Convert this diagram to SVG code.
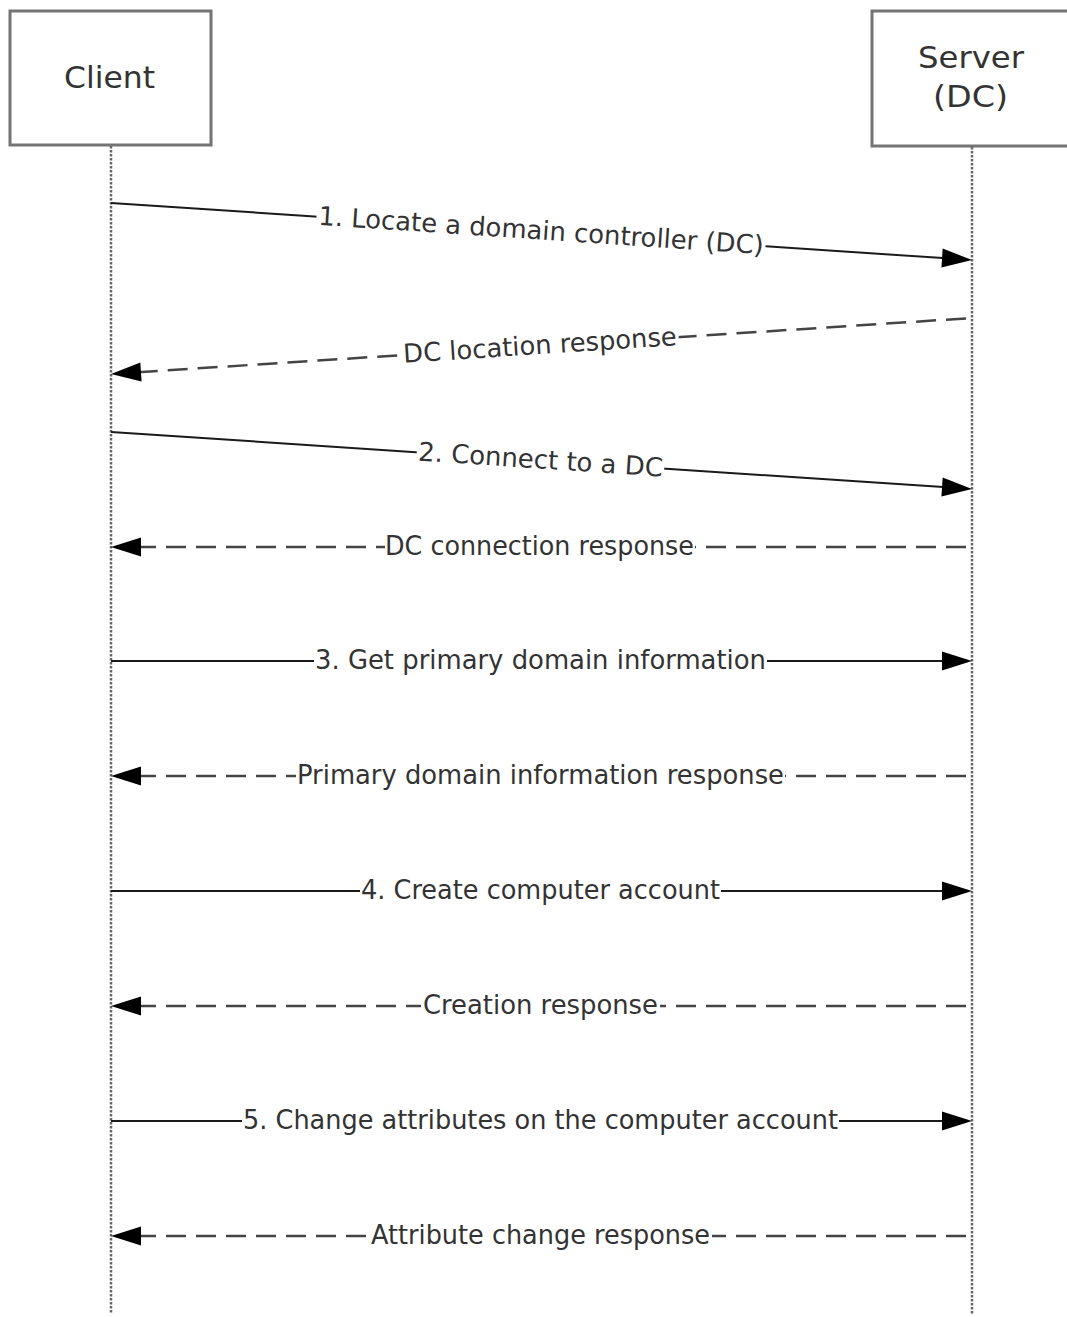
<svg xmlns="http://www.w3.org/2000/svg" width="1067" height="1317" viewBox="0 0 1067 1317">
<style>
.box{fill:#fff;stroke:#747474;stroke-width:3}
.title{font-family:"DejaVu Sans","Verdana",sans-serif;font-size:31px;fill:#333;text-anchor:middle}
.lbl{font-family:"DejaVu Sans","Verdana",sans-serif;font-size:26px;fill:#333;text-anchor:middle}
.life{stroke:#666;stroke-width:2.5;stroke-dasharray:2.5 1.5;fill:none}
.solid{stroke:#1a1a1a;stroke-width:2;fill:none;marker-end:url(#ah)}
.dash{stroke:#444;stroke-width:2.5;fill:none;stroke-dasharray:20 10;marker-end:url(#ah)}
.bg{fill:#fff}
</style>
<defs>
<marker id="ah" markerUnits="userSpaceOnUse" markerWidth="32" markerHeight="21" refX="20" refY="9.5" orient="auto" overflow="visible">
<path d="M0,0 L30,9.5 L0,19 Z" fill="#000"/>
</marker>
</defs>
<rect width="1067" height="1317" fill="#fff"/>
<g id="lifelines">
<line class="life" x1="111" y1="146" x2="111" y2="1314"/>
<line class="life" x1="972" y1="147" x2="972" y2="1314"/>
</g>
<g id="client">
<rect class="box" x="10" y="11" width="201" height="134"/>
<text class="title" x="109.5" y="88" textLength="91" lengthAdjust="spacingAndGlyphs">Client</text>
</g>
<g id="server">
<rect class="box" x="872" y="11" width="201" height="135"/>
<text class="title" x="971" y="68" textLength="106" lengthAdjust="spacingAndGlyphs">Server</text>
<text class="title" x="970.5" y="107" textLength="75" lengthAdjust="spacingAndGlyphs">(DC)</text>
</g>
<g id="connectors">
<g id="m1">
<line class="solid" x1="111" y1="203" x2="962.02" y2="259.34"/>
<g transform="translate(541,231.5) rotate(3.79)">
<rect class="bg" x="-225" y="-14" width="450" height="28"/>
<text class="lbl" x="0" y="8" textLength="446" lengthAdjust="spacingAndGlyphs">1. Locate a domain controller (DC)</text>
</g>
</g>
<g id="m2">
<line class="dash" x1="966" y1="318.4" x2="121" y2="373.35"/>
<g transform="translate(540,346) rotate(-3.72)">
<rect class="bg" x="-139" y="-14" width="278" height="28"/>
<text class="lbl" x="0" y="8" textLength="274" lengthAdjust="spacingAndGlyphs">DC location response</text>
</g>
</g>
<g id="m3">
<line class="solid" x1="111" y1="432" x2="962.02" y2="488.34"/>
<g transform="translate(540.5,460.5) rotate(3.79)">
<rect class="bg" x="-124" y="-14" width="248" height="28"/>
<text class="lbl" x="0" y="8" textLength="245" lengthAdjust="spacingAndGlyphs">2. Connect to a DC</text>
</g>
</g>
<g id="m4">
<line class="dash" x1="966" y1="547" x2="121" y2="547"/>
<rect class="bg" x="385" y="533" width="310" height="28"/>
<text class="lbl" x="539.5" y="555" textLength="309" lengthAdjust="spacingAndGlyphs">DC connection response</text>
</g>
<g id="m5">
<line class="solid" x1="111" y1="661" x2="962" y2="661"/>
<rect class="bg" x="314" y="647" width="453" height="28"/>
<text class="lbl" x="540.5" y="669" textLength="451" lengthAdjust="spacingAndGlyphs">3. Get primary domain information</text>
</g>
<g id="m6">
<line class="dash" x1="966" y1="776" x2="121" y2="776"/>
<rect class="bg" x="296" y="762" width="489" height="28"/>
<text class="lbl" x="540.5" y="784" textLength="487" lengthAdjust="spacingAndGlyphs">Primary domain information response</text>
</g>
<g id="m7">
<line class="solid" x1="111" y1="891" x2="962" y2="891"/>
<rect class="bg" x="360" y="877" width="361" height="28"/>
<text class="lbl" x="540.5" y="899" textLength="359" lengthAdjust="spacingAndGlyphs">4. Create computer account</text>
</g>
<g id="m8">
<line class="dash" x1="966" y1="1006" x2="121" y2="1006"/>
<rect class="bg" x="421" y="992" width="239" height="28"/>
<text class="lbl" x="540.5" y="1014" textLength="235" lengthAdjust="spacingAndGlyphs">Creation response</text>
</g>
<g id="m9">
<line class="solid" x1="111" y1="1121" x2="962" y2="1121"/>
<rect class="bg" x="242" y="1107" width="597" height="28"/>
<text class="lbl" x="540.5" y="1129" textLength="595" lengthAdjust="spacingAndGlyphs">5. Change attributes on the computer account</text>
</g>
<g id="m10">
<line class="dash" x1="966" y1="1236" x2="121" y2="1236"/>
<rect class="bg" x="369" y="1222" width="343" height="28"/>
<text class="lbl" x="540.5" y="1244" textLength="339" lengthAdjust="spacingAndGlyphs">Attribute change response</text>
</g>
</g>
</svg>
